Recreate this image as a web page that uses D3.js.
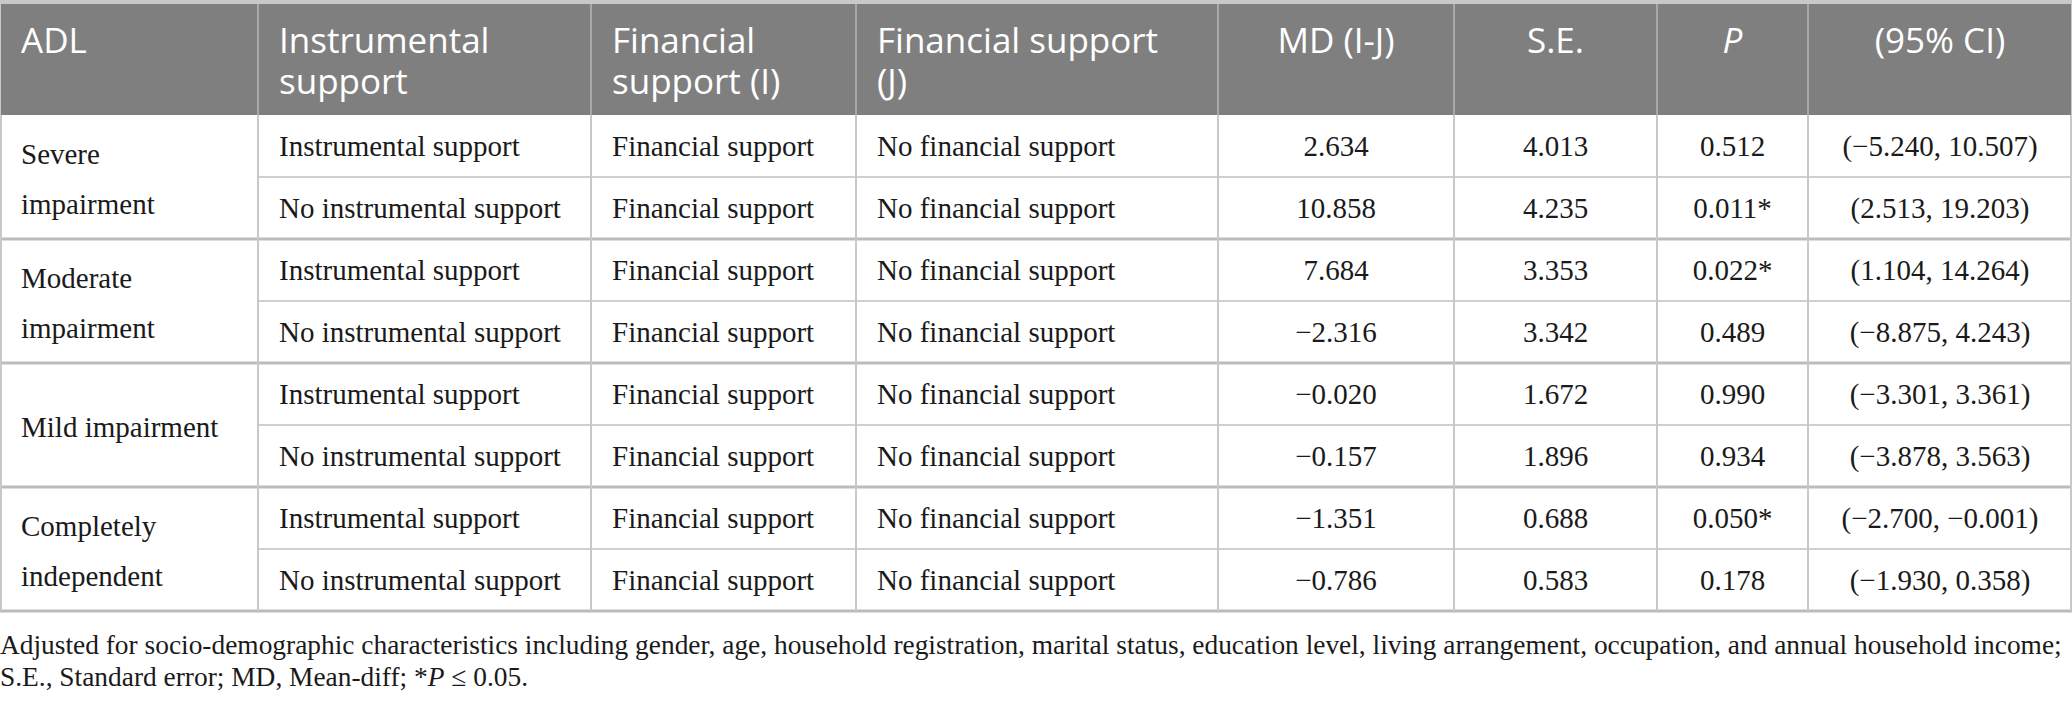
<!DOCTYPE html>
<html>
<head>
<meta charset="utf-8">
<script src="https://cdn.jsdelivr.net/npm/d3@7"></script>
<style>
  body { margin: 0; background: #fff; }
  svg { display: block; }
</style>
</head>
<body>
<script>
var w = 2072;
var h = 703;

// table content
var headers = [["ADL"], ["Instrumental", "support"], ["Financial", "support (I)"], ["Financial support", "(J)"],
               ["MD (I-J)"], ["S.E."], ["P"], ["(95% CI)"]];
var adlGroups = [["Severe", "impairment"], ["Moderate", "impairment"], ["Mild impairment"], ["Completely", "independent"]];
var instrumental = ["Instrumental support", "No instrumental support", "Instrumental support", "No instrumental support",
                    "Instrumental support", "No instrumental support", "Instrumental support", "No instrumental support"];
var financialI = ["Financial support", "Financial support", "Financial support", "Financial support",
                  "Financial support", "Financial support", "Financial support", "Financial support"];
var financialJ = ["No financial support", "No financial support", "No financial support", "No financial support",
                  "No financial support", "No financial support", "No financial support", "No financial support"];
var md = [2.634, 10.858, 7.684, -2.316, -0.020, -0.157, -1.351, -0.786];
var se = [4.013, 4.235, 3.353, 3.342, 1.672, 1.896, 0.688, 0.583];
var pVals = [0.512, 0.011, 0.022, 0.489, 0.990, 0.934, 0.050, 0.178];
var ciLow = [-5.240, 2.513, 1.104, -8.875, -3.301, -3.878, -2.700, -1.930];
var ciHigh = [10.507, 19.203, 14.264, 4.243, 3.361, 3.563, -0.001, 0.358];
var note1 = "Adjusted for socio-demographic characteristics including gender, age, household registration, marital status, education level, living arrangement, occupation, and annual household income;";

// layout
var colWidths = [258, 333, 265, 362, 236, 203, 151, 264];
var colEdges = [0];
colWidths.forEach(function(d, i) { colEdges.push(colEdges[i] + d); });
var headTop = 4, headBottom = 115, tableBottom = 611;

var svg = d3.select("body").append("svg")
            .attr("width", w)
            .attr("height", h);

var y = d3.scaleBand()
          .domain(d3.range(md.length))
          .range([headBottom, tableBottom]);

var fmt = d3.format(".3f");
function num(v) { return fmt(v).replace("-", "\u2212"); }

// header
svg.append("rect")
   .attr("x", 0).attr("y", 0)
   .attr("width", w).attr("height", headBottom)
   .attr("fill", "#c8c8c8");
svg.append("rect")
   .attr("x", 1).attr("y", headTop)
   .attr("width", w - 2).attr("height", headBottom - headTop)
   .attr("fill", "#7f7f7f");

svg.selectAll(".hsep")
   .data(colEdges.slice(1, -1))
   .enter().append("line")
   .attr("x1", function(d) { return d; }).attr("x2", function(d) { return d; })
   .attr("y1", headTop).attr("y2", headBottom)
   .attr("stroke", "#a8a8a8").attr("stroke-width", 2);

headers.forEach(function(lines, c) {
  var centered = c >= 4;
  var hx = centered ? (colEdges[c] + colEdges[c + 1]) / 2 : colEdges[c] + 21;
  lines.forEach(function(l, i) {
    svg.append("text")
       .attr("x", hx)
       .attr("y", 53 + i * 41)
       .attr("text-anchor", centered ? "middle" : "start")
       .attr("fill", "#fff")
       .attr("font-family", "'Open Sans', sans-serif")
       .attr("font-size", 35)
       .attr("font-style", c == 6 ? "italic" : "normal")
       .text(l);
  });
});

// grid lines
svg.selectAll(".rowline")
   .data(d3.range(1, md.length))
   .enter().append("line")
   .attr("x1", function(d) { return d % 2 == 0 ? 0 : colEdges[1]; })
   .attr("x2", w)
   .attr("y1", function(d) { return y(d); }).attr("y2", function(d) { return y(d); })
   .attr("stroke", function(d) { return d % 2 == 0 ? "#bcbcbc" : "#cfcfcf"; })
   .attr("stroke-width", function(d) { return d % 2 == 0 ? 3 : 2; });

svg.append("line")
   .attr("x1", 0).attr("x2", w)
   .attr("y1", tableBottom).attr("y2", tableBottom)
   .attr("stroke", "#bcbcbc").attr("stroke-width", 3);

svg.selectAll(".vline")
   .data(colEdges)
   .enter().append("line")
   .attr("x1", function(d) { return Math.min(Math.max(d, 1), w - 1); })
   .attr("x2", function(d) { return Math.min(Math.max(d, 1), w - 1); })
   .attr("y1", headBottom).attr("y2", tableBottom)
   .attr("stroke", "#c8c8c8").attr("stroke-width", 2);

// body
var bodyFont = "'Liberation Serif', 'Times New Roman', serif";

adlGroups.forEach(function(lines, g) {
  var cy = y(g * 2) + y.bandwidth();
  var t = svg.append("text")
             .attr("font-family", bodyFont)
             .attr("font-size", 29)
             .attr("fill", "#1a1a1a");
  lines.forEach(function(l, i) {
    t.append("tspan")
     .attr("x", 21)
     .attr("y", cy + 12 + (i - (lines.length - 1) / 2) * 50)
     .text(l);
  });
});

var textCols = [instrumental, financialI, financialJ];
textCols.forEach(function(col, k) {
  svg.selectAll(".tc" + k)
     .data(col)
     .enter().append("text")
     .attr("x", colEdges[k + 1] + 21)
     .attr("y", function(d, i) { return y(i) + y.bandwidth() / 2 + 10; })
     .attr("font-family", bodyFont)
     .attr("font-size", 29)
     .attr("fill", "#1a1a1a")
     .text(function(d) { return d; });
});

var numCols = [
  md.map(num),
  se.map(num),
  pVals.map(function(p) { return fmt(p) + (p <= 0.05 ? "*" : ""); }),
  ciLow.map(function(d, i) { return "(" + num(d) + ", " + num(ciHigh[i]) + ")"; })
];
numCols.forEach(function(col, k) {
  var c = k + 4;
  svg.selectAll(".nc" + k)
     .data(col)
     .enter().append("text")
     .attr("x", (colEdges[c] + colEdges[c + 1]) / 2)
     .attr("y", function(d, i) { return y(i) + y.bandwidth() / 2 + 10; })
     .attr("text-anchor", "middle")
     .attr("font-family", bodyFont)
     .attr("font-size", 29)
     .attr("fill", "#1a1a1a")
     .text(function(d) { return d; });
});

// footnote
svg.append("text")
   .attr("x", 0).attr("y", 654)
   .attr("font-family", bodyFont)
   .attr("font-size", 27.4)
   .attr("fill", "#1a1a1a")
   .text(note1);

var n2 = svg.append("text")
            .attr("x", 0).attr("y", 686)
            .attr("font-family", bodyFont)
            .attr("font-size", 27.4)
            .attr("fill", "#1a1a1a");
n2.append("tspan").text("S.E., Standard error; MD, Mean-diff; *");
n2.append("tspan").attr("font-style", "italic").text("P");
n2.append("tspan").text(" \u2264 " + "0.05.");
</script>
</body>
</html>
